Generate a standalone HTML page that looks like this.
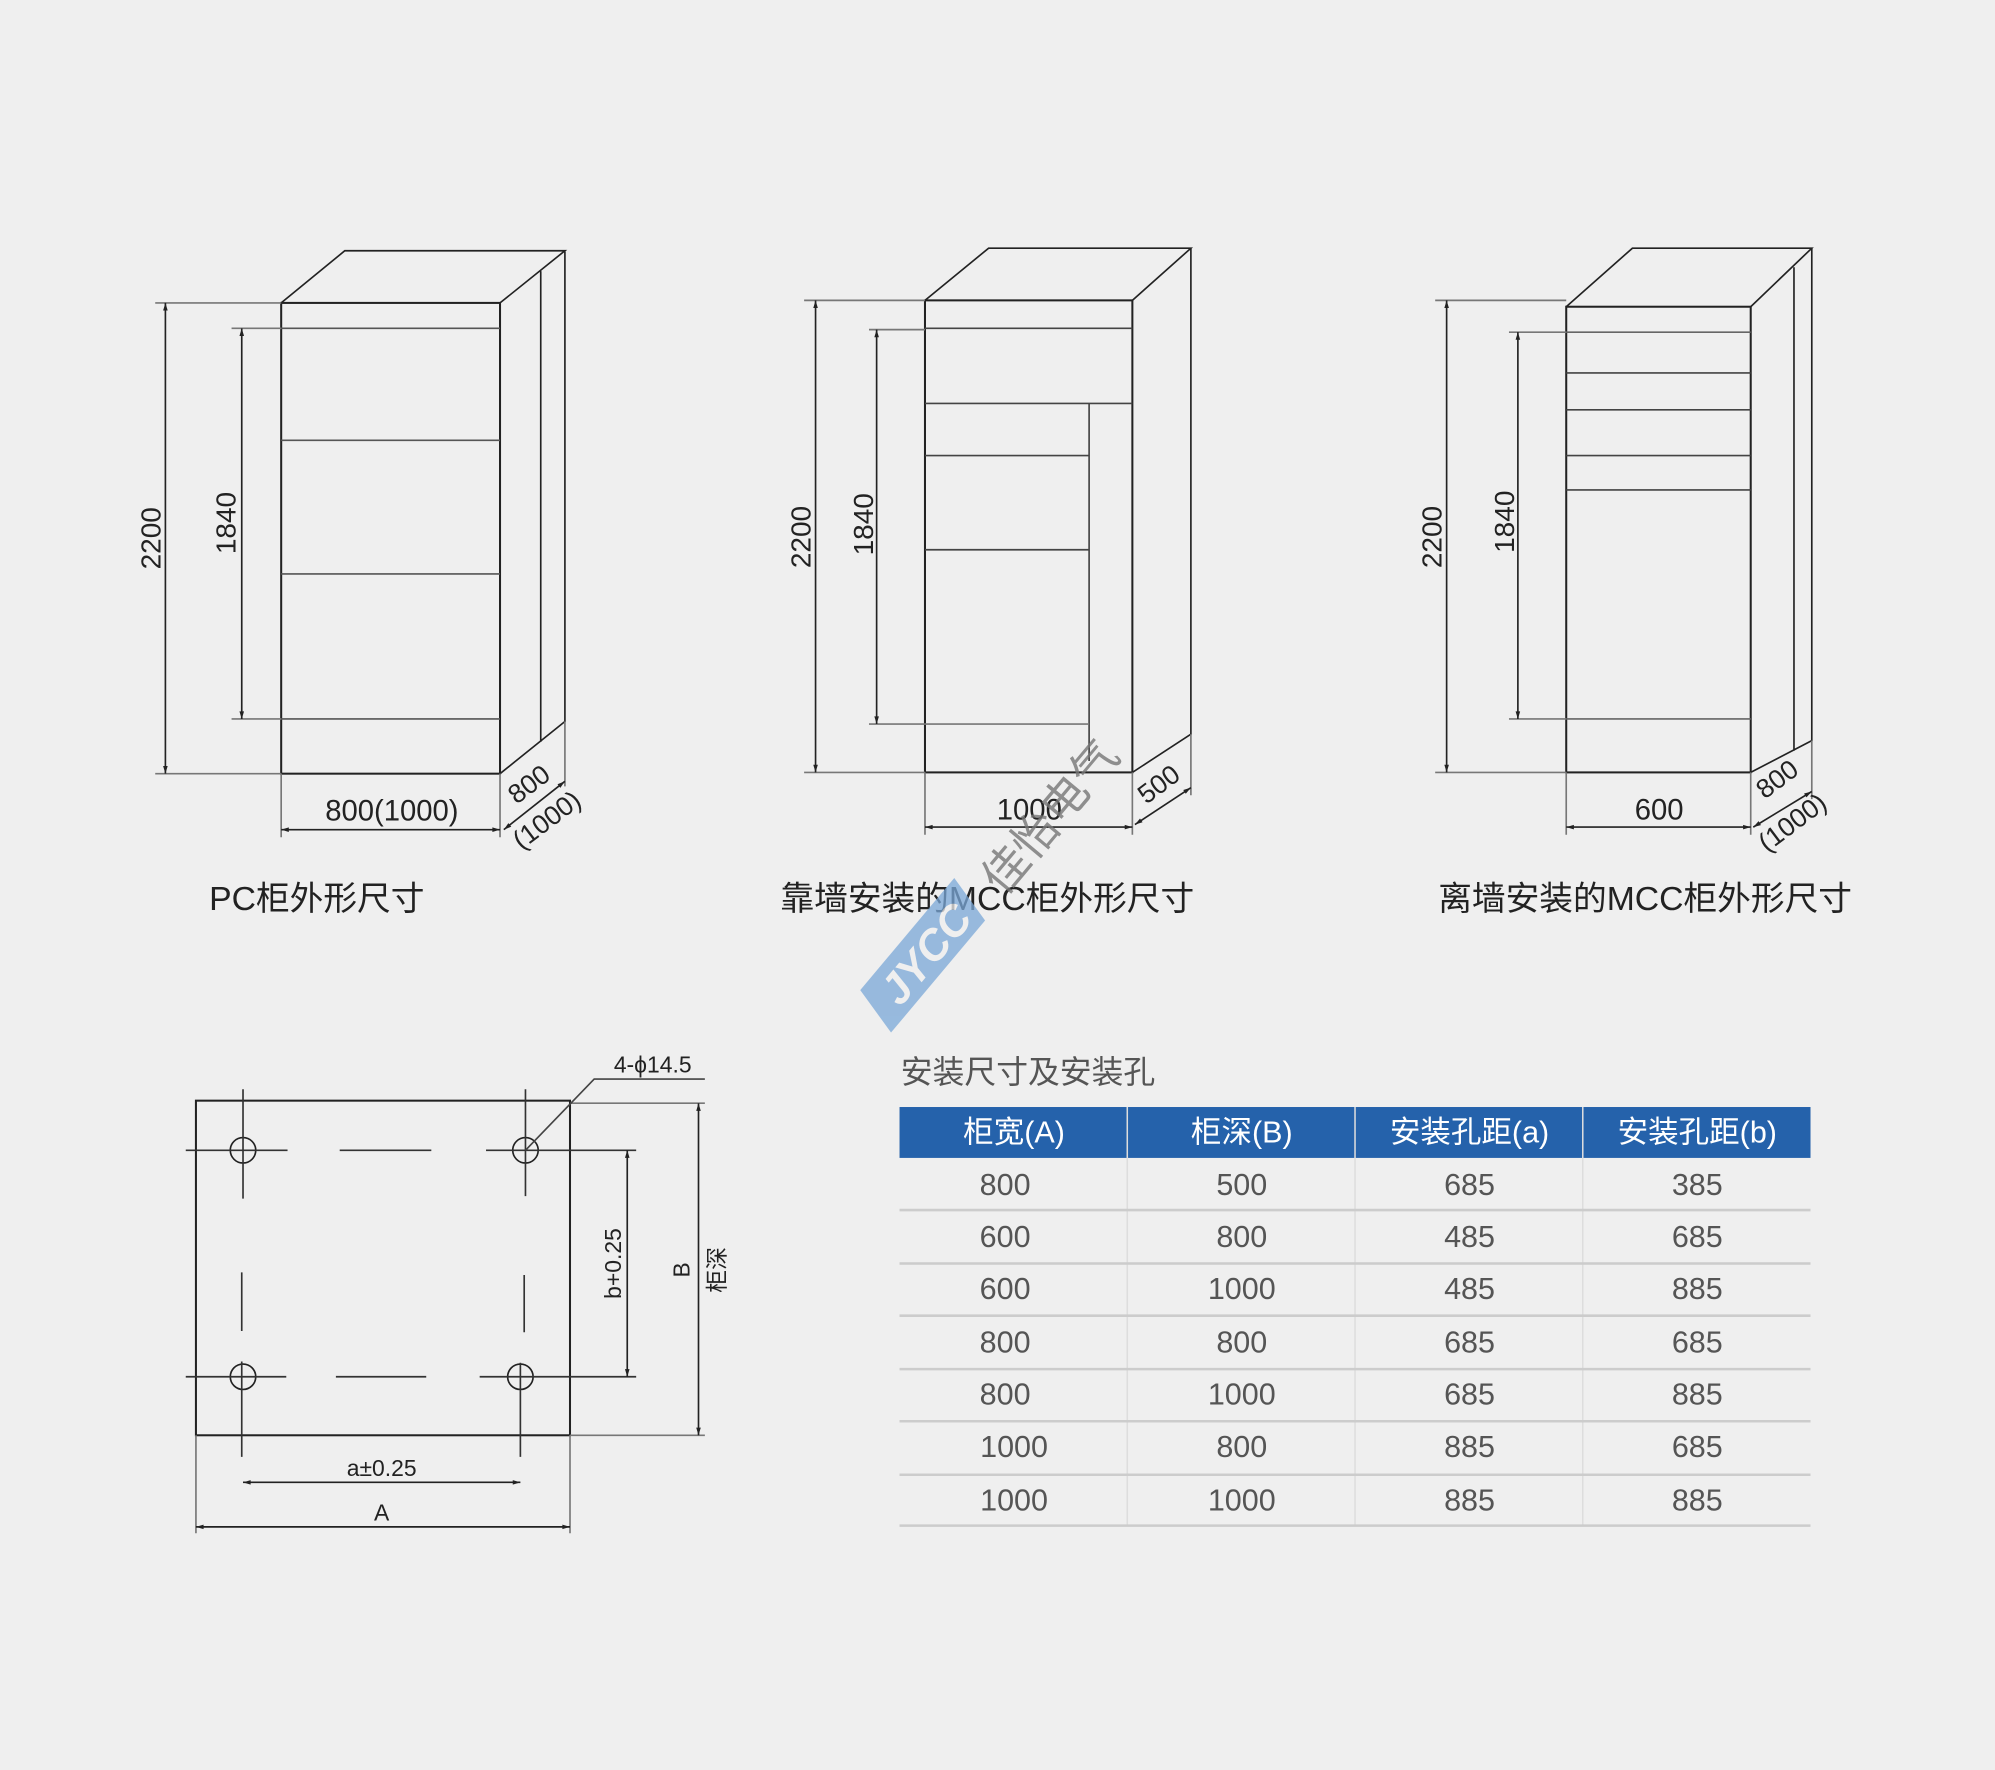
<!DOCTYPE html>
<html><head><meta charset="utf-8"><style>
html,body{margin:0;padding:0;background:#efefef;}
svg{display:block;}
text{font-family:"Liberation Sans","Noto Sans CJK SC",sans-serif;}
</style></head><body>
<svg width="1995" height="1770" viewBox="0 0 1568 1391" xmlns="http://www.w3.org/2000/svg">
<defs>
<marker id="ar" viewBox="0 0 10 10" refX="10" refY="5" markerWidth="8" markerHeight="6" orient="auto-start-reverse" markerUnits="userSpaceOnUse">
<path d="M0,2 L10,5 L0,8 z" fill="#222"/></marker>
</defs>
<rect width="1568" height="1391" fill="#efefef"/>
<g stroke="#222" fill="none" stroke-width="1.3">
<rect x="221" y="238" width="172" height="370" stroke-width="1.6"/>
<path d="M221,238 L271,197 L444,197 L393,238 M444,197 L444,567 L393,608 M425,213 L425,583" />
<path d="M221,258 H393 M221,346 H393 M221,451 H393 M221,565 H393" stroke="#555"/>
<path d="M122,238 H221 M122,608 H221 M182,258 H221 M182,565 H221" stroke="#777"/>
<line x1="130" y1="238" x2="130" y2="608" marker-start="url(#ar)" marker-end="url(#ar)"/>
<line x1="190" y1="258" x2="190" y2="565" marker-start="url(#ar)" marker-end="url(#ar)"/>
<path d="M221,608 V658 M393,608 V658 M444,567 V618" stroke="#777"/>
<line x1="221" y1="652" x2="393" y2="652" marker-start="url(#ar)" marker-end="url(#ar)"/>
<line x1="396" y1="652" x2="444" y2="614" marker-start="url(#ar)" marker-end="url(#ar)"/>
<rect x="727" y="236" width="163" height="371" stroke-width="1.6"/>
<path d="M727,236 L777,195 L936,195 L890,236 M936,195 L936,577 L890,607" />
<path d="M727,258 H890 M727,317 H890 M856,317 V598 M727,358 H856 M727,432 H856" stroke="#444"/>
<path d="M632,236 H727 M632,607 H727 M683,259 H727 M683,569 H856" stroke="#777"/>
<line x1="641" y1="236" x2="641" y2="607" marker-start="url(#ar)" marker-end="url(#ar)"/>
<line x1="689" y1="259" x2="689" y2="569" marker-start="url(#ar)" marker-end="url(#ar)"/>
<path d="M727,607 V656 M890,607 V656 M936,577 V625" stroke="#777"/>
<line x1="727" y1="650" x2="890" y2="650" marker-start="url(#ar)" marker-end="url(#ar)"/>
<line x1="892" y1="648" x2="936" y2="619" marker-start="url(#ar)" marker-end="url(#ar)"/>
<rect x="1231" y="241" width="145" height="366" stroke-width="1.6"/>
<path d="M1231,241 L1283,195 L1424,195 L1376,241 M1424,195 L1424,582 L1376,607 M1410,210 L1410,590" />
<path d="M1231,293 H1376 M1231,322 H1376 M1231,358 H1376 M1231,385 H1376" stroke="#444"/>
<path d="M1231,261 H1376 M1231,565 H1376" stroke="#666"/>
<path d="M1128,236 H1231 M1128,607 H1231 M1186,261 H1231 M1186,565 H1231" stroke="#777"/>
<line x1="1137" y1="236" x2="1137" y2="607" marker-start="url(#ar)" marker-end="url(#ar)"/>
<line x1="1193" y1="261" x2="1193" y2="565" marker-start="url(#ar)" marker-end="url(#ar)"/>
<path d="M1231,607 V656 M1376,607 V656 M1424,582 V628" stroke="#777"/>
<line x1="1231" y1="650" x2="1376" y2="650" marker-start="url(#ar)" marker-end="url(#ar)"/>
<line x1="1378" y1="650" x2="1424" y2="622" marker-start="url(#ar)" marker-end="url(#ar)"/>
<rect x="154" y="865" width="294" height="263" stroke-width="1.6"/>
<circle cx="191" cy="904" r="10"/><circle cx="413" cy="904" r="10"/>
<circle cx="191" cy="1082" r="10"/><circle cx="409" cy="1082" r="10"/>
<path d="M146,904 H226 M267,904 H339 M382,904 H448 M191,856 V942 M413,856 V940 M190,1000 V1046 M412,1002 V1047 M190,1070 V1145 M409,1071 V1145 M146,1082 H225 M264,1082 H335 M377,1082 H500 M448,904 H500" stroke="#333"/>
<path d="M448,867 H554 M448,1128 H554 M154,1128 V1205 M448,1128 V1205" stroke="#777"/>
<path d="M413,904 L467,848 H554" stroke="#444"/>
<line x1="493" y1="904" x2="493" y2="1082" marker-start="url(#ar)" marker-end="url(#ar)"/>
<line x1="549" y1="867" x2="549" y2="1128" marker-start="url(#ar)" marker-end="url(#ar)"/>
<line x1="191" y1="1165" x2="409" y2="1165" marker-start="url(#ar)" marker-end="url(#ar)"/>
<line x1="154" y1="1200" x2="448" y2="1200" marker-start="url(#ar)" marker-end="url(#ar)"/>
</g>
<g fill="#222" font-size="22">
<text transform="translate(126,423) rotate(-90)" text-anchor="middle">2200</text>
<text transform="translate(185,411) rotate(-90)" text-anchor="middle">1840</text>
<text x="308" y="645" text-anchor="middle" font-size="23">800(1000)</text>
<text transform="translate(420,622) rotate(-37)" text-anchor="middle" font-size="21">800</text>
<text transform="translate(434,650) rotate(-37)" text-anchor="middle" font-size="21">(1000)</text>
<text transform="translate(637,422) rotate(-90)" text-anchor="middle">2200</text>
<text transform="translate(686,412) rotate(-90)" text-anchor="middle">1840</text>
<text x="809" y="644" text-anchor="middle" font-size="23">1000</text>
<text transform="translate(915,622) rotate(-37)" text-anchor="middle" font-size="21">500</text>
<text transform="translate(1133,422) rotate(-90)" text-anchor="middle">2200</text>
<text transform="translate(1190,410) rotate(-90)" text-anchor="middle">1840</text>
<text x="1304" y="644" text-anchor="middle" font-size="23">600</text>
<text transform="translate(1401,618) rotate(-37)" text-anchor="middle" font-size="21">800</text>
<text transform="translate(1413,652) rotate(-37)" text-anchor="middle" font-size="21">(1000)</text>
<g font-size="26.5" fill="#222">
<text x="249" y="715" text-anchor="middle">PC柜外形尺寸</text>
<text x="776" y="715" text-anchor="middle">靠墙安装的MCC柜外形尺寸</text>
<text x="1293" y="715" text-anchor="middle">离墙安装的MCC柜外形尺寸</text>
</g>
<g font-size="18">
<text x="513" y="843" text-anchor="middle">4-ϕ14.5</text>
<text transform="translate(488,993) rotate(-90)" text-anchor="middle">b+0.25</text>
<text transform="translate(542,998) rotate(-90)" text-anchor="middle">B</text>
<text transform="translate(570,998) rotate(-90)" text-anchor="middle">柜深</text>
<text x="300" y="1160" text-anchor="middle">a±0.25</text>
<text x="300" y="1195" text-anchor="middle">A</text>
</g>
</g>
<g transform="translate(730,745) rotate(-50)" opacity="0.75">
<path d="M-60,-20 L55,-20 L45,20 L-70,20 z" fill="#7aa8d8"/>
<text x="-5" y="13" text-anchor="middle" font-size="34" font-style="italic" font-weight="bold" fill="#efefef">JYCC</text>
</g>
<text transform="translate(835,650) rotate(-50)" text-anchor="middle" font-size="36" fill="#777" opacity="0.8">佳怡电气</text>
<text x="708" y="851" font-size="25" fill="#555">安装尺寸及安装孔</text>
<rect x="707" y="870" width="716" height="40" fill="#2562ab"/>
<g stroke="#ddd" stroke-width="1.2">
<line x1="886" y1="870" x2="886" y2="1199"/><line x1="1065" y1="870" x2="1065" y2="1199"/><line x1="1244" y1="870" x2="1244" y2="1199"/>
</g>
<g stroke="#ccc" stroke-width="2">
<line x1="707" y1="951" x2="1423" y2="951"/><line x1="707" y1="993" x2="1423" y2="993"/><line x1="707" y1="1034" x2="1423" y2="1034"/><line x1="707" y1="1076" x2="1423" y2="1076"/><line x1="707" y1="1117" x2="1423" y2="1117"/><line x1="707" y1="1159" x2="1423" y2="1159"/><line x1="707" y1="1199" x2="1423" y2="1199"/>
</g>
<g font-size="24" fill="#fff" text-anchor="middle">
<text x="797" y="898">柜宽(A)</text><text x="976" y="898">柜深(B)</text><text x="1155" y="898">安装孔距(a)</text><text x="1334" y="898">安装孔距(b)</text>
</g>
<g font-size="24" fill="#555" text-anchor="middle">
<text x="790" y="939">800</text><text x="976" y="939">500</text><text x="1155" y="939">685</text><text x="1334" y="939">385</text>
<text x="790" y="980">600</text><text x="976" y="980">800</text><text x="1155" y="980">485</text><text x="1334" y="980">685</text>
<text x="790" y="1021">600</text><text x="976" y="1021">1000</text><text x="1155" y="1021">485</text><text x="1334" y="1021">885</text>
<text x="790" y="1063">800</text><text x="976" y="1063">800</text><text x="1155" y="1063">685</text><text x="1334" y="1063">685</text>
<text x="790" y="1104">800</text><text x="976" y="1104">1000</text><text x="1155" y="1104">685</text><text x="1334" y="1104">885</text>
<text x="797" y="1145">1000</text><text x="976" y="1145">800</text><text x="1155" y="1145">885</text><text x="1334" y="1145">685</text>
<text x="797" y="1187">1000</text><text x="976" y="1187">1000</text><text x="1155" y="1187">885</text><text x="1334" y="1187">885</text>
</g>
</svg>
</body></html>
